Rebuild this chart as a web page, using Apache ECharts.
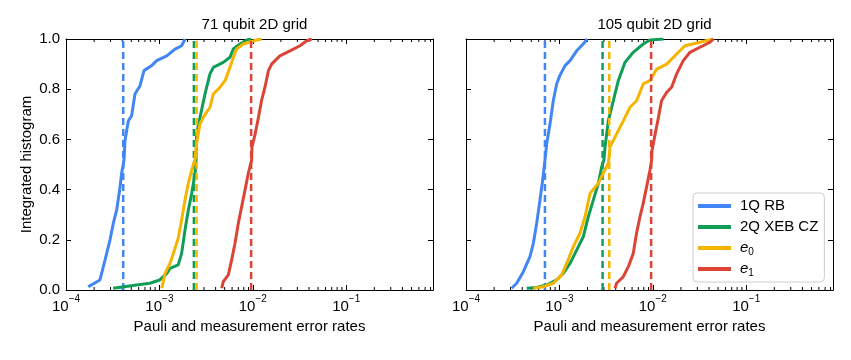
<!DOCTYPE html>
<html>
<head>
<meta charset="utf-8">
<script src="https://cdn.jsdelivr.net/npm/echarts@6/dist/echarts.min.js"></script>
<style>
  html, body { margin: 0; background: #fff; }
  #chart { width: 851px; height: 360px; }
</style>
</head>
<body>
<div id="chart"></div>
<script>
const SERIES_NAMES = ['1Q RB', '2Q XEB CZ', 'e0', 'e1'];
const COLORS = ['#4285F4', '#0F9D58', '#F4B400', '#DB4437'];
const PANEL_TITLES = ['71 qubit 2D grid', '105 qubit 2D grid'];
const X_MIN = 1e-4;
const X_MAX = 0.85;

// 71 qubit grid, [error rate, integrated fraction]
const rb71 = [[1.73e-4, 0.013], [2.31e-4, 0.04], [2.62e-4, 0.12], [2.96e-4, 0.2], [3.21e-4, 0.266], [3.49e-4, 0.319], [3.79e-4, 0.41], [3.94e-4, 0.465], [4.18e-4, 0.518], [4.28e-4, 0.595], [4.65e-4, 0.674], [5.04e-4, 0.694], [5.48e-4, 0.781], [6.2e-4, 0.814], [6.84e-4, 0.874], [8.27e-4, 0.894], [9.35e-4, 0.914], [1.2e-3, 0.933], [1.47e-3, 0.96], [1.73e-3, 0.973], [1.88e-3, 1.0]];
const xeb71 = [[3.2e-4, 0.007], [5.7e-4, 0.02], [7.9e-4, 0.027], [1.01e-3, 0.04], [1.2e-3, 0.066], [1.3e-3, 0.086], [1.59e-3, 0.1], [1.73e-3, 0.146], [1.88e-3, 0.239], [2.04e-3, 0.319], [2.22e-3, 0.385], [2.41e-3, 0.465], [2.47e-3, 0.518], [2.5e-3, 0.62], [2.72e-3, 0.688], [3.08e-3, 0.781], [3.48e-3, 0.861], [3.78e-3, 0.887], [4.83e-3, 0.907], [5.7e-3, 0.927], [6.18e-3, 0.96], [7.29e-3, 0.98], [8.6e-3, 0.996], [9.6e-3, 1.0]];
const e0_71 = [[1.06e-3, 0.007], [1.15e-3, 0.066], [1.3e-3, 0.106], [1.47e-3, 0.166], [1.59e-3, 0.206], [1.73e-3, 0.279], [1.88e-3, 0.359], [2.04e-3, 0.425], [2.22e-3, 0.478], [2.4e-3, 0.518], [2.5e-3, 0.582], [2.72e-3, 0.661], [2.95e-3, 0.688], [3.48e-3, 0.728], [3.78e-3, 0.781], [4.46e-3, 0.808], [5.04e-3, 0.834], [5.7e-3, 0.887], [6.2e-3, 0.927], [6.7e-3, 0.96], [7.9e-3, 0.98], [1.1e-2, 0.996], [1.24e-2, 1.0]];
const e1_71 = [[4.65e-3, 0.007], [4.83e-3, 0.033], [5.47e-3, 0.06], [5.94e-3, 0.12], [6.45e-3, 0.186], [7.0e-3, 0.266], [7.6e-3, 0.332], [8.25e-3, 0.398], [8.95e-3, 0.465], [9.72e-3, 0.518], [9.8e-3, 0.569], [1.06e-2, 0.622], [1.15e-2, 0.688], [1.24e-2, 0.754], [1.35e-2, 0.808], [1.47e-2, 0.874], [1.59e-2, 0.9], [1.95e-2, 0.933], [2.5e-2, 0.953], [3.2e-2, 0.973], [3.78e-2, 0.993], [4.27e-2, 1.0]];
const medians71 = [4.1e-4, 2.34e-3, 2.5e-3, 9.6e-3];

// 105 qubit grid
const rb105 = [[3.08e-4, 0.007], [3.49e-4, 0.027], [4.11e-4, 0.073], [4.84e-4, 0.133], [5.26e-4, 0.186], [5.71e-4, 0.266], [6.2e-4, 0.359], [6.62e-4, 0.438], [7.01e-4, 0.518], [7.31e-4, 0.582], [7.93e-4, 0.661], [8.6e-4, 0.754], [9.35e-4, 0.821], [1.01e-3, 0.854], [1.15e-3, 0.894], [1.3e-3, 0.914], [1.53e-3, 0.953], [1.8e-3, 0.98], [1.99e-3, 1.0]];
const xeb105 = [[4.47e-4, 0.007], [5.7e-4, 0.01], [7.3e-4, 0.02], [9.35e-4, 0.04], [1.1e-3, 0.066], [1.3e-3, 0.106], [1.53e-3, 0.159], [1.8e-3, 0.212], [2.04e-3, 0.292], [2.31e-3, 0.359], [2.61e-3, 0.425], [2.84e-3, 0.491], [3.0e-3, 0.518], [3.08e-3, 0.569], [3.34e-3, 0.674], [3.78e-3, 0.754], [4.27e-3, 0.834], [5.04e-3, 0.907], [6.18e-3, 0.947], [7.9e-3, 0.98], [9.33e-3, 0.996], [1.3e-2, 1.0]];
const e0_105 = [[5.26e-4, 0.007], [6.7e-4, 0.013], [8.6e-4, 0.027], [1.06e-3, 0.06], [1.24e-3, 0.12], [1.41e-3, 0.173], [1.66e-3, 0.226], [1.88e-3, 0.292], [2.13e-3, 0.385], [2.61e-3, 0.425], [2.95e-3, 0.465], [3.34e-3, 0.505], [3.4e-3, 0.529], [3.48e-3, 0.569], [4.1e-3, 0.622], [4.83e-3, 0.674], [5.7e-3, 0.728], [6.7e-3, 0.754], [7.9e-3, 0.821], [9.33e-3, 0.834], [1.1e-2, 0.88], [1.41e-2, 0.9], [1.8e-2, 0.94], [2.21e-2, 0.973], [3.2e-2, 0.987], [4.45e-2, 1.0]];
const e1_105 = [[3.94e-3, 0.007], [4.1e-3, 0.027], [4.83e-3, 0.053], [5.47e-3, 0.093], [6.18e-3, 0.146], [6.7e-3, 0.226], [7.29e-3, 0.292], [7.9e-3, 0.345], [8.59e-3, 0.412], [9.33e-3, 0.478], [9.72e-3, 0.518], [9.8e-3, 0.555], [1.06e-2, 0.622], [1.15e-2, 0.688], [1.24e-2, 0.754], [1.41e-2, 0.788], [1.59e-2, 0.808], [1.8e-2, 0.861], [2.12e-2, 0.914], [2.5e-2, 0.947], [3.2e-2, 0.967], [4.1e-2, 0.987], [4.45e-2, 1.0]];
const medians105 = [7.0e-4, 2.9e-3, 3.42e-3, 9.6e-3];

// minor ticks of the log axis (2..9 x each decade)
const MINOR_TICKS = [1e-4, 1e-3, 1e-2, 1e-1]
  .flatMap(d => [2, 3, 4, 5, 6, 7, 8, 9].map(m => m * d))
  .filter(v => v < X_MAX);

const panels = [
  { data: [rb71, xeb71, e0_71, e1_71], medians: medians71 },
  { data: [rb105, xeb105, e0_105, e1_105], medians: medians105 }
];

const FONT = 'Liberation Sans, Arial, Helvetica, sans-serif';
const axisLine = { show: true, onZero: false, lineStyle: { color: '#000', width: 1 } };
const majorTick = { inside: true, length: 5, lineStyle: { color: '#000' } };

function powLabel(v) {
  const e = Math.log10(v);
  if (Math.abs(e - Math.round(e)) > 1e-6) return '';
  return '{b|10}{s|\u2212' + Math.abs(Math.round(e)) + '}';
}

const grids = [], xAxes = [], yAxes = [], series = [], titles = [];
const gridLefts = [66, 466];

panels.forEach((p, g) => {
  grids.push({ left: gridLefts[g], top: 39, width: 367, height: 251, containLabel: false });
  titles.push({
    text: PANEL_TITLES[g], left: gridLefts[g] + 183.5, top: 12, textAlign: 'center',
    textStyle: { fontFamily: FONT, fontSize: 15, fontWeight: 'normal', color: '#000' }
  });
  // bottom + top x axes
  xAxes.push({
    type: 'log', logBase: 10, gridIndex: g, min: X_MIN, max: X_MAX, position: 'bottom',
    axisLine, splitLine: { show: false }, axisTick: majorTick,
    axisLabel: {
      margin: 4, formatter: powLabel, color: '#000',
      rich: {
        b: { fontFamily: FONT, fontSize: 15, color: '#000' },
        s: { fontFamily: FONT, fontSize: 10, color: '#000', padding: [0, 0, 16, 0] }
      }
    },
    name: 'Pauli and measurement error rates', nameLocation: 'middle', nameGap: 28,
    nameTextStyle: { fontFamily: FONT, fontSize: 15, color: '#000' }
  });
  xAxes.push({
    type: 'log', logBase: 10, gridIndex: g, min: X_MIN, max: X_MAX, position: 'top',
    axisLine, splitLine: { show: false }, axisLabel: { show: false }, axisTick: majorTick
  });
  // left + right y axes
  yAxes.push({
    type: 'value', gridIndex: g, min: 0, max: 1, interval: 0.2, position: 'left',
    axisLine, splitLine: { show: false }, axisTick: majorTick,
    axisLabel: {
      show: g === 0, margin: 6, color: '#000', fontFamily: FONT, fontSize: 15,
      formatter: v => v.toFixed(1)
    },
    name: g === 0 ? 'Integrated histogram' : '', nameLocation: 'middle', nameGap: 32,
    nameTextStyle: { fontFamily: FONT, fontSize: 15, color: '#000' }
  });
  yAxes.push({
    type: 'value', gridIndex: g, min: 0, max: 1, interval: 0.2, position: 'right',
    axisLine, splitLine: { show: false }, axisLabel: { show: false }, axisTick: majorTick
  });

  p.data.forEach((d, i) => {
    series.push({
      name: SERIES_NAMES[i], type: 'line', xAxisIndex: g * 2, yAxisIndex: g * 2,
      data: d, symbol: 'none', smooth: false, color: COLORS[i],
      lineStyle: { width: 3, color: COLORS[i] }
    });
    // dashed vertical line at the median
    series.push({
      name: SERIES_NAMES[i] + ' median', type: 'line', xAxisIndex: g * 2, yAxisIndex: g * 2,
      data: [[p.medians[i], 0], [p.medians[i], 1]], symbol: 'none', silent: true,
      lineStyle: { width: 2.5, type: [7, 4], color: COLORS[i] }
    });
  });

  // minor ticks on bottom and top edges
  series.push({
    type: 'custom', xAxisIndex: g * 2, yAxisIndex: g * 2, silent: true, clip: false,
    data: MINOR_TICKS.map(v => [v, 0]),
    renderItem: (params, api) => {
      const b = api.coord([api.value(0), 0]);
      const t = api.coord([api.value(0), 1]);
      const style = { stroke: '#000', lineWidth: 1 };
      return {
        type: 'group', children: [
          { type: 'line', shape: { x1: b[0], y1: b[1], x2: b[0], y2: b[1] - 3 }, style },
          { type: 'line', shape: { x1: t[0], y1: t[1], x2: t[0], y2: t[1] + 3 }, style }
        ]
      };
    }
  });
});

const chart = echarts.init(document.getElementById('chart'));
chart.setOption({
  animation: false,
  backgroundColor: '#fff',
  title: titles,
  grid: grids,
  xAxis: xAxes,
  yAxis: yAxes,
  legend: {
    data: SERIES_NAMES, orient: 'vertical', left: 693, top: 193,
    padding: [4, 6, 4, 5], itemGap: 3, itemWidth: 33, itemHeight: 4, icon: 'rect',
    selectedMode: false,
    backgroundColor: '#fff', borderColor: '#cccccc', borderWidth: 1, borderRadius: 4,
    textStyle: {
      fontFamily: FONT, fontSize: 15, color: '#000', lineHeight: 18, padding: [0, 0, 0, 4],
      rich: {
        it: { fontFamily: FONT, fontSize: 15, fontStyle: 'italic', color: '#000' },
        sub: { fontFamily: FONT, fontSize: 10, color: '#000', padding: [8, 0, 0, 0] }
      }
    },
    formatter: name => (name[0] === 'e' ? '{it|e}{sub|' + name.slice(1) + '}' : name)
  },
  series
});
</script>
</body>
</html>
